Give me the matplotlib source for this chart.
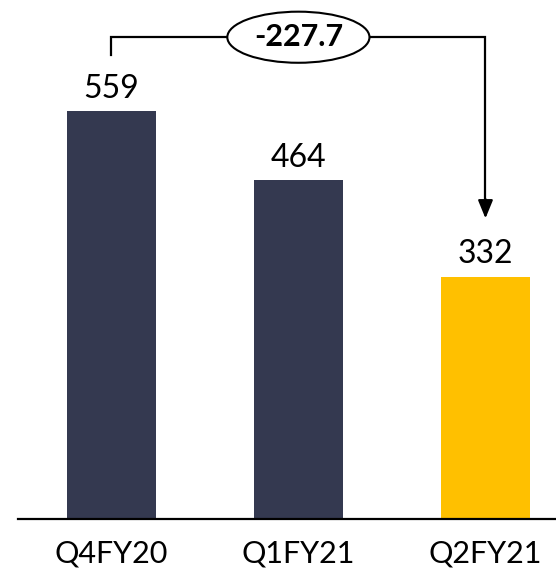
import matplotlib.pyplot as plt
from matplotlib.patches import Ellipse

quarters = ['Q4FY20', 'Q1FY21', 'Q2FY21']
values = [559, 464, 332]
bar_colors = ['#343950', '#343950', '#FFC000']
change_label = '-227.7'

plt.rcParams['font.family'] = ['Lato', 'DejaVu Sans']

fig = plt.figure(figsize=(5.56, 5.72), dpi=100)
ax = fig.add_axes([0.032, 0.0927, 0.968, 0.9073])

x = range(len(quarters))
ax.bar(x, values, width=0.476, color=bar_colors)

for xi, v in zip(x, values):
    ax.text(xi, v + 10, str(v), ha='center', va='bottom', fontsize=23)

ax.set_xlim(-0.5, 2.377)
ax.set_ylim(0, 711)
ax.set_xticks(list(x))
ax.set_xticklabels(quarters, fontsize=22)
ax.tick_params(axis='x', length=0, pad=15)
ax.set_yticks([])
for side in ['left', 'right', 'top']:
    ax.spines[side].set_visible(False)
ax.spines['bottom'].set_linewidth(1.6)

# bracket from first bar to last bar with the change in the middle
top = 660
ax.plot([0, 0, 2, 2], [636, top, top, 440], color='black', lw=1.6, solid_joinstyle='miter')
ax.annotate('', xy=(2, 408), xytext=(2, 442),
            arrowprops=dict(arrowstyle='-|>,head_width=0.45,head_length=1.1',
                            color='black', lw=1.6))
ax.add_patch(Ellipse((1, top), 0.76, 70, facecolor='white', edgecolor='black', lw=1.5, zorder=3))
ax.text(1, top, change_label, ha='center', va='center', fontsize=22, fontweight='bold', zorder=4)

fig.savefig('out.png', dpi=100)
